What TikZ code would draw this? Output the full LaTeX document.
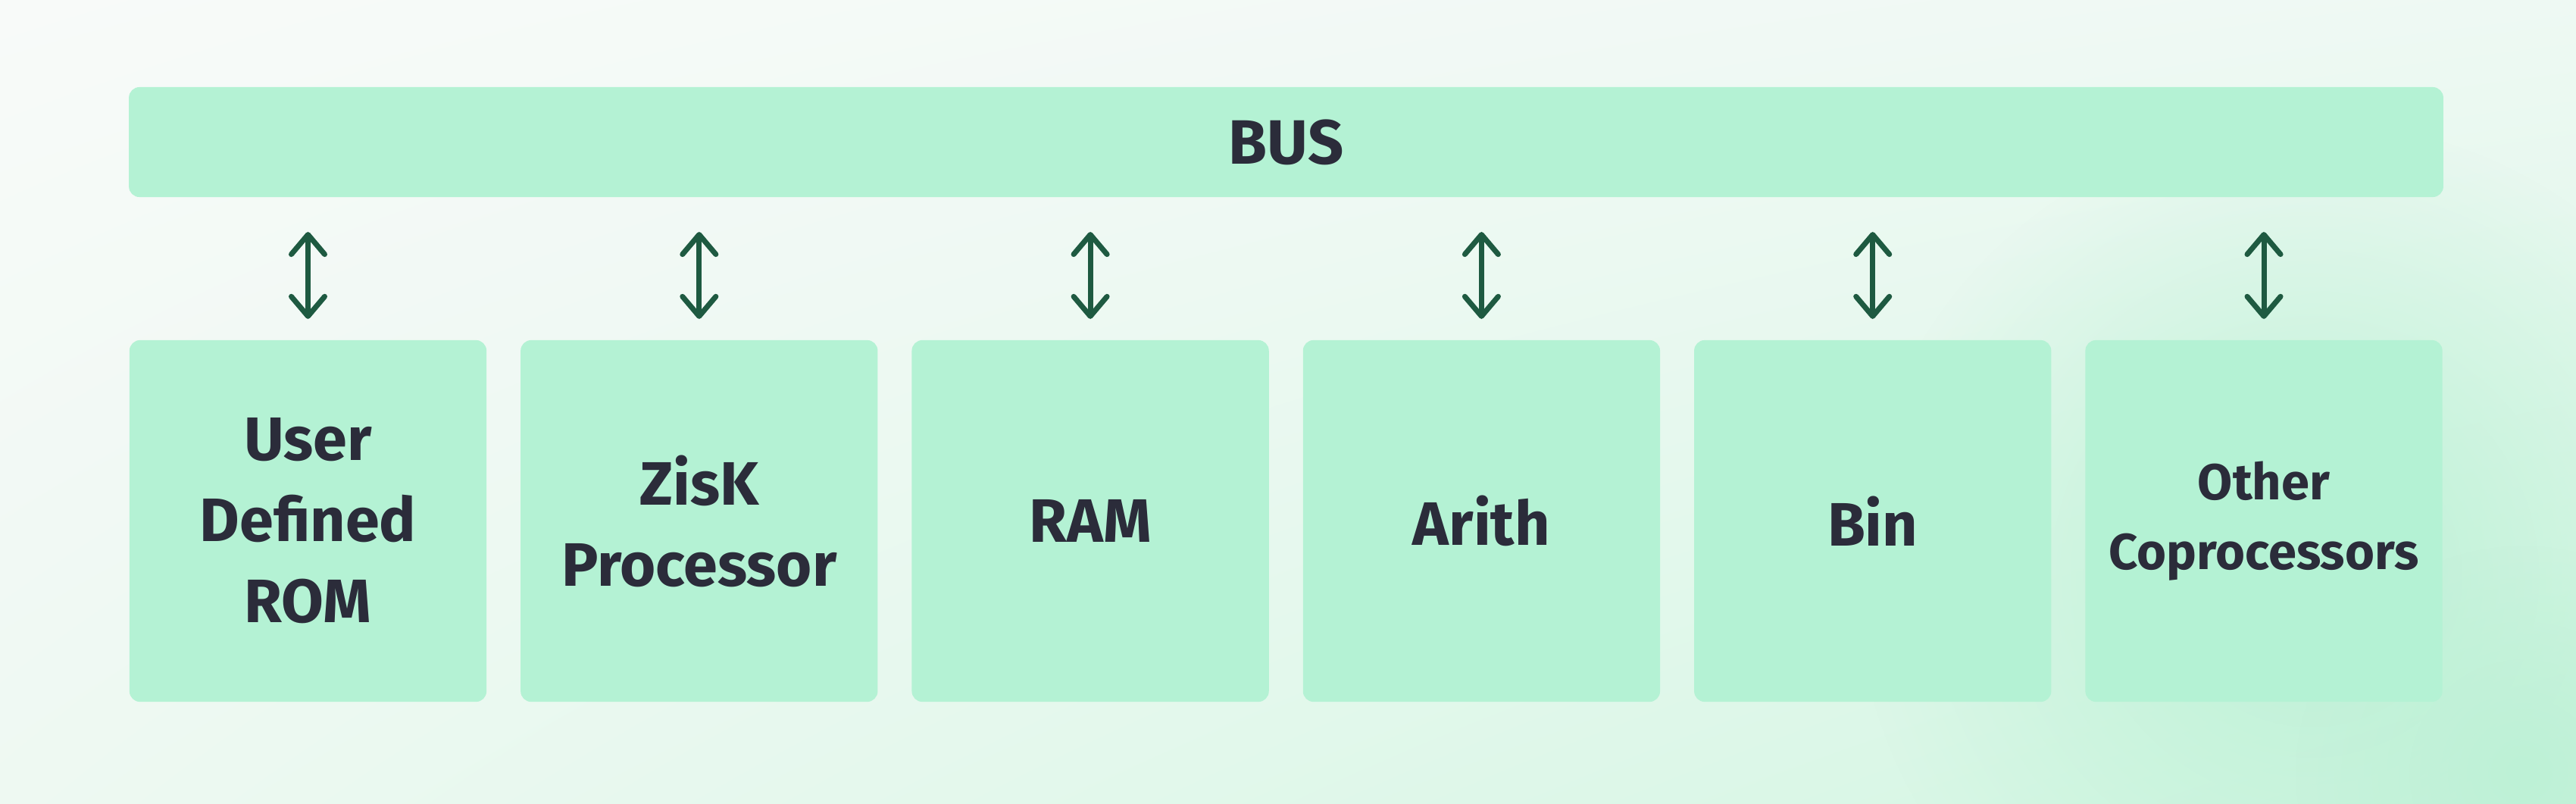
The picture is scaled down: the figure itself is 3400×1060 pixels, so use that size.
\documentclass[tikz,border=0pt]{standalone}
\usepackage{fontspec}
\setmainfont{Fira Sans}
\usetikzlibrary{positioning, arrows.meta, shadings, fadings}

\definecolor{mint}{HTML}{B4F2D4}
\definecolor{ink}{HTML}{2B2C3A}
\definecolor{pine}{HTML}{1E5A41}
\definecolor{bgA}{HTML}{F8FAF9}
\definecolor{bgB}{HTML}{EEF9F3}
\definecolor{bgC}{HTML}{EEF9F2}
\definecolor{bgD}{HTML}{D2F6E2}
\definecolor{blob}{HTML}{BDF1D6}

\tikzfading[name = haze, inner color = transparent!0, outer color = transparent!100]

\begin{document}
\begin{tikzpicture}
  [
    x = 0.01cm, y = -0.01cm,
    every node/.style = {text = ink, align = center, inner sep = 0pt, outer sep = 0pt,
      font = \bfseries\fontsize{23}{30.4}\selectfont},
    unit/.style = {fill = mint, rounded corners = 0.14cm,
      minimum width = 4.71cm, minimum height = 4.77cm},
    busbar/.style = {fill = mint, rounded corners = 0.14cm,
      minimum width = 30.53cm, minimum height = 1.45cm,
      font = \bfseries\fontsize{23.5}{28}\selectfont},
    link/.style = {draw = pine, line width = 2pt, line cap = round,
      >={Straight Barb[round, length = 2.6mm, width = 4.4mm]}, <->,
      shorten < = 0.46cm, shorten > = 0.28cm},
    node distance = 0.45cm
  ]
  % background
  \useasboundingbox (0,0) rectangle (3400,1060);
  \shade[upper left = bgA, upper right = bgB, lower left = bgC, lower right = bgD]
    (0,0) rectangle (3400,1060);
  \fill[blob, path fading = haze] (3050,760) circle (600);
  \fill[blob, path fading = haze] (3330,1020) circle (300);

  \node[busbar] (bus) at (1697.5,187.5) {BUS};

  \node[unit] (rom) at (406.5,687.5) {User\\Defined\\ROM};
  \node[unit, right = of rom]   (zisk)  {ZisK\\Processor};
  \node[unit, right = of zisk]  (ram)   {RAM};
  \node[unit, right = of ram]   (arith) {Arith};
  \node[unit, right = of arith] (bin)   {Bin};
  \node[unit, right = of bin, font = \bfseries\fontsize{19}{26}\selectfont]
    (other) {Other\\Coprocessors};

  \foreach \u in {rom, zisk, ram, arith, bin, other}
    \draw[link] (bus.south -| \u.north) -- (\u.north);
\end{tikzpicture}
\end{document}
